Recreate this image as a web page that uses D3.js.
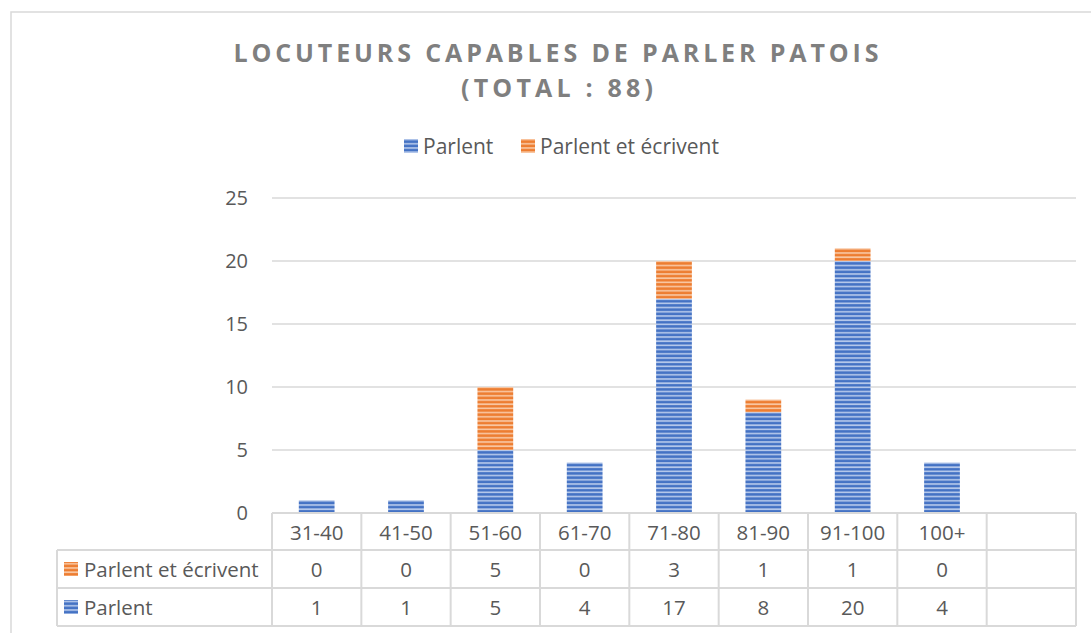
<!doctype html>
<html>
<head>
    <meta charset="UTF-8">
    <title>Locuteurs patois</title>
    <script src="https://d3js.org/d3.v7.min.js"></script>
    <style>
        body { margin: 0; background: #fff; }
        text { font-family: "Open Sans", "Noto Sans", sans-serif; }
    </style>
</head>
<body>
<svg width="1091" height="633"></svg>
<script>
    // données
    var categories = ["31-40", "41-50", "51-60", "61-70", "71-80", "81-90", "91-100", "100+", ""];
    var parlent = [1, 1, 5, 4, 17, 8, 20, 4, null];
    var ecrivent = [0, 0, 5, 0, 3, 1, 1, 0, null];
    var seriesNames = ["Parlent", "Parlent et écrivent"];
    var yTicks = [0, 5, 10, 15, 20, 25];

    var blue = "#4472c4", orange = "#ed7d31";
    var grid = "#d9d9d9", txt = "#595959";

    var svg = d3.select("svg");

    // motifs rayés
    var defs = svg.append("defs");
    function stripes(id, base, light) {
        var p = defs.append("pattern")
            .attr("id", id)
            .attr("patternUnits", "userSpaceOnUse")
            .attr("width", 8).attr("height", 4.2);
        p.append("rect").attr("width", 8).attr("height", 4.2).attr("fill", base);
        p.append("rect").attr("y", 0.2).attr("width", 8).attr("height", 1.6).attr("fill", light);
    }
    stripes("pBlue", blue, "#b9cbec");
    stripes("pOrange", orange, "#f9c9a6");

    // cadre
    svg.append("rect")
        .attr("x", 11).attr("y", 12)
        .attr("width", 1200).attr("height", 700)
        .attr("fill", "none").attr("stroke", grid).attr("stroke-width", 1.5);

    // titre
    svg.append("text")
        .attr("x", 556).attr("y", 62)
        .attr("text-anchor", "middle")
        .attr("font-size", 25).attr("font-weight", 700)
        .attr("fill", "#7f7f7f")
        .attr("textLength", 645).attr("lengthAdjust", "spacing")
        .text("LOCUTEURS CAPABLES DE PARLER PATOIS");
    svg.append("text")
        .attr("x", 557).attr("y", 97)
        .attr("text-anchor", "middle")
        .attr("font-size", 25).attr("font-weight", 700)
        .attr("fill", "#7f7f7f")
        .attr("textLength", 192).attr("lengthAdjust", "spacing")
        .text("(TOTAL : 88)");

    // légende
    var legX = [404, 521];
    seriesNames.forEach(function (name, i) {
        svg.append("rect")
            .attr("x", legX[i]).attr("y", 139)
            .attr("width", 14).attr("height", 14)
            .attr("fill", i == 0 ? "url(#pBlue)" : "url(#pOrange)");
        svg.append("text")
            .attr("x", legX[i] + 19).attr("y", 154)
            .attr("font-size", 21).attr("fill", txt)
            .text(name);
    });

    // échelles
    var left = 272, right = 1076;
    var x = d3.scaleBand().domain(categories).range([left, right])
        .paddingInner(0.6).paddingOuter(0.3);
    var col = d3.scaleBand().domain(categories).range([left, right]);
    var y = d3.scaleLinear().domain([0, 25]).range([513, 198]);

    // grille
    svg.append("g").selectAll("line")
        .data(yTicks.slice(1))
        .enter().append("line")
        .attr("x1", left).attr("x2", right)
        .attr("y1", function (d) { return y(d); })
        .attr("y2", function (d) { return y(d); })
        .attr("stroke", grid).attr("stroke-width", 1.3);

    var yAxis = svg.append("g")
        .attr("transform", "translate(" + (left - 24) + ",0)")
        .call(d3.axisLeft(y).tickValues(yTicks).tickSize(0).tickPadding(0));
    yAxis.select(".domain").remove();
    yAxis.selectAll("text")
        .attr("font-size", 20).attr("fill", txt)
        .attr("font-family", "Open Sans");

    // barres empilées
    var rows = categories.map(function (c, i) {
        return { cat: c, Parlent: parlent[i] || 0, Ecrivent: ecrivent[i] || 0 };
    });
    var stack = d3.stack().keys(["Parlent", "Ecrivent"])(rows);
    var fills = ["url(#pBlue)", "url(#pOrange)"];

    svg.append("g").selectAll("g")
        .data(stack)
        .enter().append("g")
        .attr("fill", function (d, i) { return fills[i]; })
        .selectAll("rect")
        .data(function (d) { return d; })
        .enter().append("rect")
        .attr("x", function (d) { return x(d.data.cat); })
        .attr("width", x.bandwidth())
        .attr("y", function (d) { return y(d[1]); })
        .attr("height", function (d) { return y(d[0]) - y(d[1]); });

    // tableau de données
    var rowTop = [513, 550, 588, 626];
    var tableLeft = 57;
    var tg = svg.append("g")
        .attr("stroke", grid).attr("stroke-width", 2).attr("fill", "none");

    // lignes horizontales
    tg.append("line").attr("x1", left).attr("x2", right).attr("y1", rowTop[0]).attr("y2", rowTop[0]);
    [1, 2, 3].forEach(function (r) {
        tg.append("line").attr("x1", tableLeft).attr("x2", right)
            .attr("y1", rowTop[r]).attr("y2", rowTop[r]);
    });
    // lignes verticales
    tg.append("line").attr("x1", tableLeft).attr("x2", tableLeft)
        .attr("y1", rowTop[1]).attr("y2", rowTop[3]);
    categories.forEach(function (c) {
        tg.append("line").attr("x1", col(c)).attr("x2", col(c))
            .attr("y1", rowTop[0]).attr("y2", rowTop[3]);
    });
    tg.append("line").attr("x1", right).attr("x2", right)
        .attr("y1", rowTop[0]).attr("y2", rowTop[3]);

    // en-têtes
    svg.append("g").selectAll("text")
        .data(categories)
        .enter().append("text")
        .attr("x", function (d) { return col(d) + col.bandwidth() / 2; })
        .attr("y", 540)
        .attr("text-anchor", "middle")
        .attr("font-size", 20.5).attr("fill", txt)
        .text(function (d) { return d; });

    var tableRows = [
        { name: seriesNames[1], values: ecrivent, fill: "url(#pOrange)" },
        { name: seriesNames[0], values: parlent, fill: "url(#pBlue)" }
    ];
    tableRows.forEach(function (r, i) {
        var base = rowTop[i + 1];
        svg.append("rect")
            .attr("x", 64).attr("y", base + 12)
            .attr("width", 14).attr("height", 14)
            .attr("fill", r.fill);
        svg.append("text")
            .attr("x", 84).attr("y", base + 27)
            .attr("font-size", 20.5).attr("fill", txt)
            .text(r.name);
        svg.append("g").selectAll("text")
            .data(r.values)
            .enter().append("text")
            .attr("x", function (d, j) { return col(categories[j]) + col.bandwidth() / 2; })
            .attr("y", base + 27)
            .attr("text-anchor", "middle")
            .attr("font-size", 20.5).attr("fill", txt)
            .text(function (d) { return d == null ? "" : d; });
    });
</script>
</body>
</html>
